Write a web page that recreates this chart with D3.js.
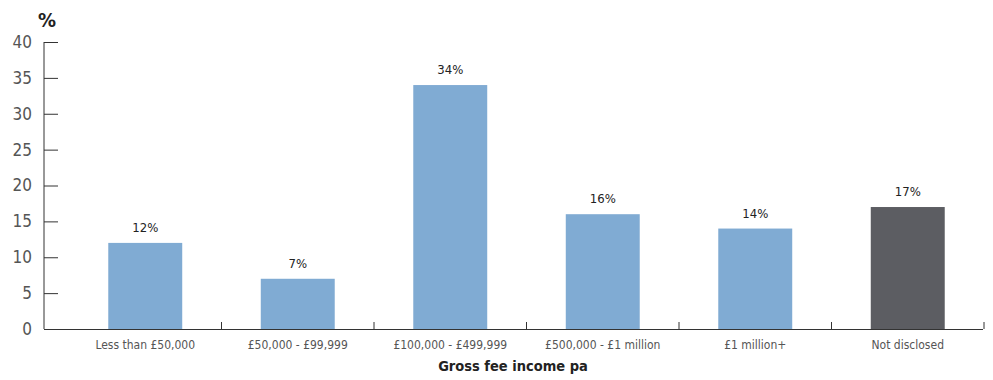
<!DOCTYPE html>
<html>
<head>
<meta charset="utf-8">
<script src="https://cdn.jsdelivr.net/npm/d3@7"></script>
<style>
  html, body { margin: 0; padding: 0; background: #fff; }
  svg { display: block; }
  text { font-family: "DejaVu Sans Condensed", "DejaVu Sans", sans-serif; font-stretch: condensed; }
</style>
</head>
<body>
<svg id="chart" width="993" height="380"></svg>
<script>
const categories = ["Less than £50,000", "£50,000 - £99,999", "£100,000 - £499,999", "£500,000 - £1 million", "£1 million+", "Not disclosed"];
const values = [12, 7, 34, 16, 14, 17];
const barColors = ["#80abd3", "#80abd3", "#80abd3", "#80abd3", "#80abd3", "#5c5d62"];
const yTicks = [0, 5, 10, 15, 20, 25, 30, 35, 40];
const yUnit = "%";
const xTitle = "Gross fee income pa";

const svg = d3.select("#chart");
const axisLeft = 44, axisRight = 983, yTop = 42, yBottom = 329;

const x = d3.scaleBand().domain(categories).range([69, 984]).paddingInner(0.515).paddingOuter(0.2575);
const y = d3.scaleLinear().domain([0, 40]).range([yBottom, yTop]);

// bars
svg.append("g").selectAll("rect").data(values).join("rect")
  .attr("x", (d, i) => x(categories[i]))
  .attr("y", d => y(d))
  .attr("width", x.bandwidth())
  .attr("height", d => y(0) - y(d))
  .attr("fill", (d, i) => barColors[i]);

// value labels
svg.append("g").selectAll("text").data(values).join("text")
  .attr("x", (d, i) => x(categories[i]) + x.bandwidth() / 2)
  .attr("y", d => y(d) - 11)
  .attr("text-anchor", "middle")
  .attr("font-size", 13)
  .attr("fill", "#222")
  .text(d => d + "%");

// y axis
const yAxis = svg.append("g").attr("transform", `translate(${axisLeft},0)`)
  .call(d3.axisRight(y).tickValues(yTicks).tickSize(14).tickFormat(""));
yAxis.select(".domain").attr("stroke", "#333").attr("d", `M0,${yTop}V${yBottom}`);
yAxis.selectAll(".tick line").attr("stroke", "#333");
svg.append("g").selectAll("text").data(yTicks).join("text")
  .attr("x", 32).attr("y", d => y(d)).attr("dy", "0.35em")
  .attr("text-anchor", "end").attr("font-size", 17).attr("fill", "#555")
  .text(d => d);

// unit label
svg.append("text").attr("x", 47).attr("y", 27).attr("text-anchor", "middle")
  .attr("font-size", 20).attr("font-weight", "bold").attr("fill", "#222").text(yUnit);

// x axis baseline and category separators
svg.append("line").attr("x1", axisLeft).attr("x2", axisRight)
  .attr("y1", yBottom + 0.5).attr("y2", yBottom + 0.5).attr("stroke", "#333");
const step = x.step();
svg.append("g").selectAll("line").data(categories).join("line")
  .attr("x1", d => x(d) + x.bandwidth() / 2 + step / 2)
  .attr("x2", d => x(d) + x.bandwidth() / 2 + step / 2)
  .attr("y1", yBottom).attr("y2", yBottom - 7)
  .attr("stroke", "#333");

const xAxis = svg.append("g").attr("transform", `translate(0,${yBottom})`)
  .call(d3.axisBottom(x).tickSize(0).tickPadding(11));
xAxis.select(".domain").remove();
xAxis.selectAll("text").attr("font-size", 12).attr("fill", "#555")
  .attr("font-family", "'DejaVu Sans Condensed', 'DejaVu Sans', sans-serif");

svg.append("text").attr("x", 513).attr("y", 371).attr("text-anchor", "middle")
  .attr("font-size", 14.5).attr("font-weight", "bold").attr("fill", "#222").text(xTitle);
</script>
</body>
</html>
